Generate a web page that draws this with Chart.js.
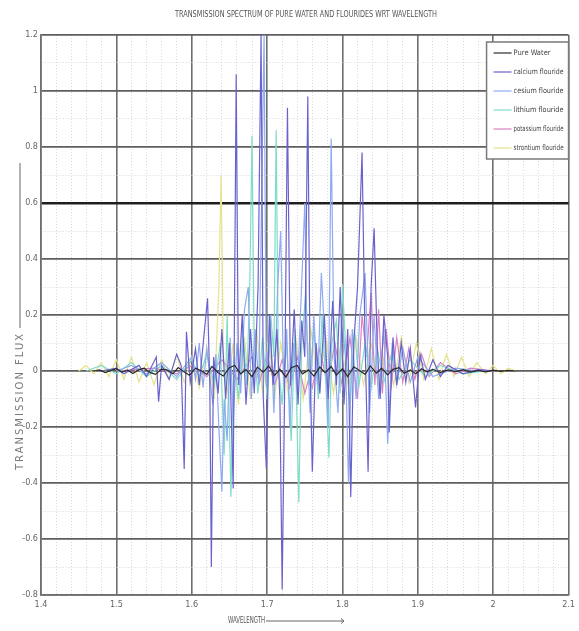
<!DOCTYPE html>
<html>
<head>
<meta charset="utf-8">
<title>Transmission spectrum</title>
<script src="https://cdn.jsdelivr.net/npm/chart.js@4.4.0/dist/chart.umd.min.js"></script>
<style>
  body { margin: 0; background: #fff; }
  #wrap { width: 579px; height: 631px; }
</style>
</head>
<body>
<div id="wrap"><canvas id="spectrum" width="579" height="631"></canvas></div>
<script>
// series: [wavelength, transmission flux]
var seriesNames = ['Pure Water', 'calcium flouride', 'cesium flouride', 'lithium flouride', 'potassium flouride', 'strontium flouride'];

var pureWater = [[1.47,0],[1.478,0.004],[1.485,-0.006],[1.493,0.002],[1.50,0.008],[1.507,-0.004],[1.515,0.003],[1.522,-0.009],[1.53,0.005],[1.537,0.01],[1.545,-0.006],[1.552,-0.012],[1.56,0.007],[1.567,0.004],[1.575,-0.01],[1.582,0.012],[1.59,-0.004],[1.597,-0.015],[1.605,0.01],[1.612,0.002],[1.62,-0.012],[1.627,0.016],[1.635,-0.006],[1.642,-0.018],[1.65,0.012],[1.657,0.02],[1.665,-0.01],[1.672,0.005],[1.68,-0.02],[1.687,0.014],[1.695,-0.004],[1.702,0.018],[1.71,-0.016],[1.717,0.006],[1.725,-0.022],[1.732,0.012],[1.74,0.02],[1.747,-0.01],[1.755,0.004],[1.762,-0.018],[1.77,0.014],[1.777,-0.006],[1.785,0.016],[1.792,-0.014],[1.80,0.008],[1.807,-0.02],[1.815,0.015],[1.822,0.003],[1.83,-0.012],[1.837,0.018],[1.845,-0.008],[1.852,0.01],[1.86,-0.014],[1.867,0.006],[1.875,0.012],[1.882,-0.008],[1.89,0.004],[1.897,-0.01],[1.905,0.008],[1.912,-0.003],[1.92,0.006],[1.93,-0.006],[1.94,0.004],[1.95,-0.002],[1.96,0.005],[1.97,-0.004],[1.98,0.002],[1.99,-0.003],[2.00,0.003],[2.01,-0.001],[2.02,0.002],[2.03,0]];

var calcium = [[1.48,0],[1.50,0.01],[1.51,-0.01],[1.53,0.02],[1.54,-0.02],[1.553,0.05],[1.556,-0.11],[1.56,0.02],[1.57,-0.03],[1.58,0.06],[1.586,0.02],[1.590,-0.35],[1.593,0.14],[1.598,-0.04],[1.605,0.08],[1.61,-0.05],[1.616,0.12],[1.621,0.26],[1.624,-0.05],[1.626,-0.70],[1.629,0.05],[1.635,-0.08],[1.64,0.15],[1.645,-0.1],[1.65,0.1],[1.655,-0.42],[1.659,1.06],[1.662,-0.05],[1.667,0.2],[1.672,-0.12],[1.678,0.15],[1.683,-0.08],[1.688,0.3],[1.692,1.2],[1.695,-0.1],[1.699,-0.35],[1.703,0.2],[1.708,-0.05],[1.713,0.15],[1.717,-0.1],[1.720,-0.78],[1.724,0.1],[1.727,0.94],[1.731,-0.05],[1.736,0.22],[1.741,-0.12],[1.746,0.18],[1.75,0.05],[1.754,0.98],[1.757,0.02],[1.760,-0.36],[1.765,0.1],[1.77,-0.08],[1.776,0.2],[1.781,-0.1],[1.787,0.25],[1.792,-0.05],[1.797,0.3],[1.802,-0.12],[1.807,0.15],[1.811,-0.45],[1.815,0.1],[1.82,0.3],[1.826,0.78],[1.83,0.1],[1.834,-0.36],[1.838,0.3],[1.842,0.51],[1.846,0.1],[1.85,-0.1],[1.855,0.2],[1.86,0.05],[1.862,-0.22],[1.867,0.12],[1.872,-0.05],[1.878,0.1],[1.884,-0.04],[1.89,0.08],[1.897,-0.13],[1.903,0.06],[1.91,-0.03],[1.92,0.04],[1.93,-0.02],[1.94,0.02],[1.96,-0.01],[1.98,0.005],[2.0,0]];

var cesium = [[1.50,0],[1.52,0.02],[1.54,-0.01],[1.56,0.03],[1.58,-0.02],[1.6,0.05],[1.605,-0.03],[1.61,0.1],[1.615,-0.06],[1.62,0.08],[1.628,-0.12],[1.632,0.06],[1.636,-0.2],[1.64,-0.43],[1.643,-0.1],[1.647,-0.25],[1.651,0.12],[1.655,-0.18],[1.66,0.1],[1.665,-0.08],[1.67,0.22],[1.675,0.3],[1.679,-0.1],[1.684,0.15],[1.689,-0.05],[1.696,1.2],[1.699,-0.05],[1.704,0.2],[1.709,-0.15],[1.714,0.3],[1.718,0.5],[1.722,-0.05],[1.726,0.15],[1.73,-0.2],[1.735,0.1],[1.74,-0.08],[1.745,0.25],[1.75,0.6],[1.753,0.1],[1.757,-0.15],[1.762,0.2],[1.767,-0.05],[1.772,0.35],[1.777,0.1],[1.781,-0.2],[1.785,0.83],[1.789,0.05],[1.794,-0.15],[1.799,0.2],[1.804,0.05],[1.808,-0.4],[1.813,0.15],[1.818,-0.1],[1.823,0.2],[1.83,0.35],[1.836,-0.15],[1.842,0.2],[1.848,-0.1],[1.855,0.15],[1.86,-0.26],[1.866,0.1],[1.872,-0.05],[1.88,0.08],[1.89,-0.04],[1.9,0.05],[1.92,-0.02],[1.95,0.01],[1.98,0]];

var lithium = [[1.46,0],[1.48,0.02],[1.50,-0.01],[1.52,0.03],[1.54,-0.02],[1.56,0.02],[1.58,-0.03],[1.6,0.04],[1.61,-0.02],[1.62,0.06],[1.63,-0.05],[1.638,0.1],[1.643,-0.3],[1.647,0.2],[1.652,-0.45],[1.656,0.05],[1.662,-0.1],[1.668,0.15],[1.673,-0.05],[1.677,0.3],[1.680,0.84],[1.683,0.05],[1.688,-0.08],[1.694,0.12],[1.70,-0.1],[1.705,0.2],[1.709,0.05],[1.712,0.86],[1.715,0.02],[1.72,-0.12],[1.726,0.1],[1.732,-0.25],[1.737,0.15],[1.742,-0.47],[1.746,0.1],[1.751,0.27],[1.756,-0.05],[1.762,0.15],[1.768,-0.1],[1.773,0.2],[1.778,-0.05],[1.782,-0.31],[1.786,0.1],[1.792,0.18],[1.797,-0.08],[1.80,0.31],[1.805,0.05],[1.81,-0.12],[1.816,0.15],[1.822,-0.05],[1.83,0.1],[1.838,-0.06],[1.846,0.08],[1.855,-0.04],[1.865,0.06],[1.875,-0.03],[1.89,0.04],[1.91,-0.02],[1.93,0.02],[1.96,-0.01],[1.99,0]];

var potassium = [[1.50,0],[1.55,0.01],[1.58,-0.01],[1.6,0.02],[1.62,-0.02],[1.64,0.04],[1.66,-0.03],[1.68,0.05],[1.69,-0.04],[1.70,0.06],[1.71,-0.05],[1.72,0.04],[1.73,-0.06],[1.74,0.05],[1.75,-0.08],[1.755,-0.03],[1.76,-0.06],[1.77,0.08],[1.78,-0.05],[1.79,0.1],[1.80,-0.06],[1.81,0.12],[1.82,-0.1],[1.826,0.2],[1.832,0.05],[1.838,0.28],[1.843,-0.05],[1.848,0.22],[1.853,-0.08],[1.858,0.15],[1.865,-0.05],[1.872,0.12],[1.88,-0.04],[1.888,0.08],[1.896,-0.03],[1.905,0.06],[1.915,-0.02],[1.93,0.03],[1.95,-0.01],[1.97,0.01],[2.0,0]];

var strontium = [[1.45,0],[1.46,0.02],[1.47,-0.01],[1.48,0.03],[1.49,-0.02],[1.50,0.04],[1.51,-0.03],[1.52,0.05],[1.53,-0.04],[1.54,0.03],[1.55,-0.05],[1.56,0.04],[1.57,-0.03],[1.58,0.06],[1.59,-0.04],[1.6,0.05],[1.61,-0.06],[1.62,0.08],[1.63,-0.1],[1.636,0.3],[1.639,0.7],[1.642,0.05],[1.648,-0.08],[1.655,0.1],[1.662,-0.12],[1.67,0.12],[1.678,-0.1],[1.686,0.15],[1.694,-0.08],[1.702,0.12],[1.71,-0.1],[1.718,0.1],[1.728,-0.08],[1.738,0.12],[1.748,-0.1],[1.758,0.15],[1.768,-0.06],[1.778,0.12],[1.788,-0.08],[1.798,0.1],[1.808,-0.06],[1.818,0.12],[1.828,-0.05],[1.838,0.1],[1.848,-0.06],[1.858,0.1],[1.868,-0.05],[1.878,0.12],[1.888,-0.04],[1.898,0.1],[1.908,-0.03],[1.918,0.08],[1.928,-0.03],[1.938,0.06],[1.948,-0.02],[1.958,0.05],[1.968,-0.02],[1.978,0.03],[1.99,-0.01],[2.0,0.02],[2.01,-0.01],[2.02,0.01],[2.03,0]];

var xMajorTicks = [1.4, 1.5, 1.6, 1.7, 1.8, 1.9, 2.0, 2.1];
var yMajorTicks = [-0.8, -0.6, -0.4, -0.2, 0, 0.2, 0.4, 0.6, 0.8, 1.0, 1.2];

var lineColors = ['#2a2a2a', '#6a62cc', '#8eaaf0', '#7fdcc8', '#d982c2', '#e6e28e'];
var narrow = "'Liberation Sans Narrow', 'DejaVu Sans Condensed', sans-serif";

function isMajor(v, list) {
  return list.some(function(m) { return Math.abs(m - v) < 1e-6; });
}

// title, axis titles and the boxed legend inside the plot
var decorations = {
  id: 'decorations',
  afterDraw: function(chart) {
    var ctx = chart.ctx, a = chart.chartArea;
    ctx.save();
    ctx.fillStyle = '#555';
    ctx.textBaseline = 'middle';
    ctx.textAlign = 'center';
    ctx.font = '9px ' + narrow;
    ctx.fillText('TRANSMISSION SPECTRUM OF PURE WATER AND FLOURIDES WRT WAVELENGTH', 306, 15, 262);

    // x title with arrow
    ctx.textAlign = 'left';
    ctx.font = '8px ' + narrow;
    ctx.fillText('WAVELENGTH', 228, 621, 37);
    ctx.strokeStyle = '#666'; ctx.lineWidth = 1;
    ctx.beginPath(); ctx.moveTo(266, 621); ctx.lineTo(344, 621);
    ctx.moveTo(341, 618.5); ctx.lineTo(344, 621); ctx.lineTo(341, 623.5); ctx.stroke();

    // y title with arrow
    ctx.save();
    ctx.translate(20, 470);
    ctx.rotate(-Math.PI / 2);
    ctx.font = '10px DejaVu Sans';
    ctx.letterSpacing = '2px';
    ctx.fillStyle = '#777';
    ctx.fillText('TRANSMISSION FLUX', 0, 0, 140);
    ctx.beginPath(); ctx.moveTo(142, 0); ctx.lineTo(307, 0); ctx.stroke();
    ctx.restore();

    // legend
    var w = 82, h = 117, lx = a.right - w, ly = a.top + 7;
    ctx.fillStyle = '#fff';
    ctx.fillRect(lx, ly, w, h);
    ctx.strokeStyle = '#7a7a7a'; ctx.lineWidth = 1.5;
    ctx.strokeRect(lx, ly, w, h);
    ctx.font = '7.5px ' + narrow;
    chart.data.datasets.forEach(function(ds, i) {
      var y = ly + 11 + i * 19;
      ctx.strokeStyle = ds.borderColor; ctx.lineWidth = 1.2;
      ctx.beginPath(); ctx.moveTo(lx + 7, y); ctx.lineTo(lx + 25, y); ctx.stroke();
      ctx.fillStyle = '#444';
      ctx.fillText(ds.label, lx + 27, y, 50);
    });
    ctx.restore();
  }
};

var allSeries = [pureWater, calcium, cesium, lithium, potassium, strontium];
var datasets = allSeries.map(function(pts, i) {
  return {
    label: seriesNames[i],
    data: pts,
    borderColor: lineColors[i],
    borderWidth: 1.2,
    pointRadius: 0,
    tension: 0,
    fill: false
  };
});

new Chart(document.getElementById('spectrum'), {
  type: 'line',
  data: { datasets: datasets },
  plugins: [decorations],
  options: {
    responsive: false,
    animation: false,
    devicePixelRatio: 1,
    layout: { padding: { top: 35, right: 9, left: 0, bottom: 0 } },
    plugins: { legend: { display: false }, tooltip: { enabled: false } },
    scales: {
      x: {
        type: 'linear',
        min: 1.4, max: 2.1,
        afterFit: function(s) { s.height = 36; },
        ticks: {
          stepSize: 0.02, autoSkip: false, maxRotation: 0, padding: 4,
          color: '#666', font: { family: narrow, size: 9 },
          callback: function(v) { return isMajor(v, xMajorTicks) ? String(Math.round(v * 10) / 10) : ''; }
        },
        grid: {
          drawTicks: false,
          color: function(c) { return c.tick && isMajor(c.tick.value, xMajorTicks) ? '#6e6e6e' : '#d8d8d8'; },
          lineWidth: function(c) { return c.tick && isMajor(c.tick.value, xMajorTicks) ? 1.6 : 1; }
        },
        border: {
          color: '#6e6e6e', width: 1.6,
          dash: function(c) { return c.tick && !isMajor(c.tick.value, xMajorTicks) ? [1, 2] : []; }
        }
      },
      y: {
        min: -0.8, max: 1.2,
        afterFit: function(s) { s.width = 41; },
        ticks: {
          stepSize: 0.1, autoSkip: false, padding: 3,
          color: '#666', font: { family: narrow, size: 9 },
          callback: function(v) { return isMajor(v, yMajorTicks) ? String(Math.round(v * 10) / 10) : ''; }
        },
        grid: {
          drawTicks: false,
          color: function(c) {
            if (!c.tick) return '#6e6e6e';
            if (Math.abs(c.tick.value - 0.6) < 1e-6) return '#1e1e1e';
            return isMajor(c.tick.value, yMajorTicks) ? '#5e5e5e' : '#d8d8d8';
          },
          lineWidth: function(c) {
            if (!c.tick) return 1.6;
            if (Math.abs(c.tick.value - 0.6) < 1e-6) return 2.6;
            return isMajor(c.tick.value, yMajorTicks) ? 1.8 : 1;
          }
        },
        border: {
          color: '#6e6e6e', width: 1.6,
          dash: function(c) { return c.tick && !isMajor(c.tick.value, yMajorTicks) ? [1, 2] : []; }
        }
      }
    }
  }
});
</script>
</body>
</html>
